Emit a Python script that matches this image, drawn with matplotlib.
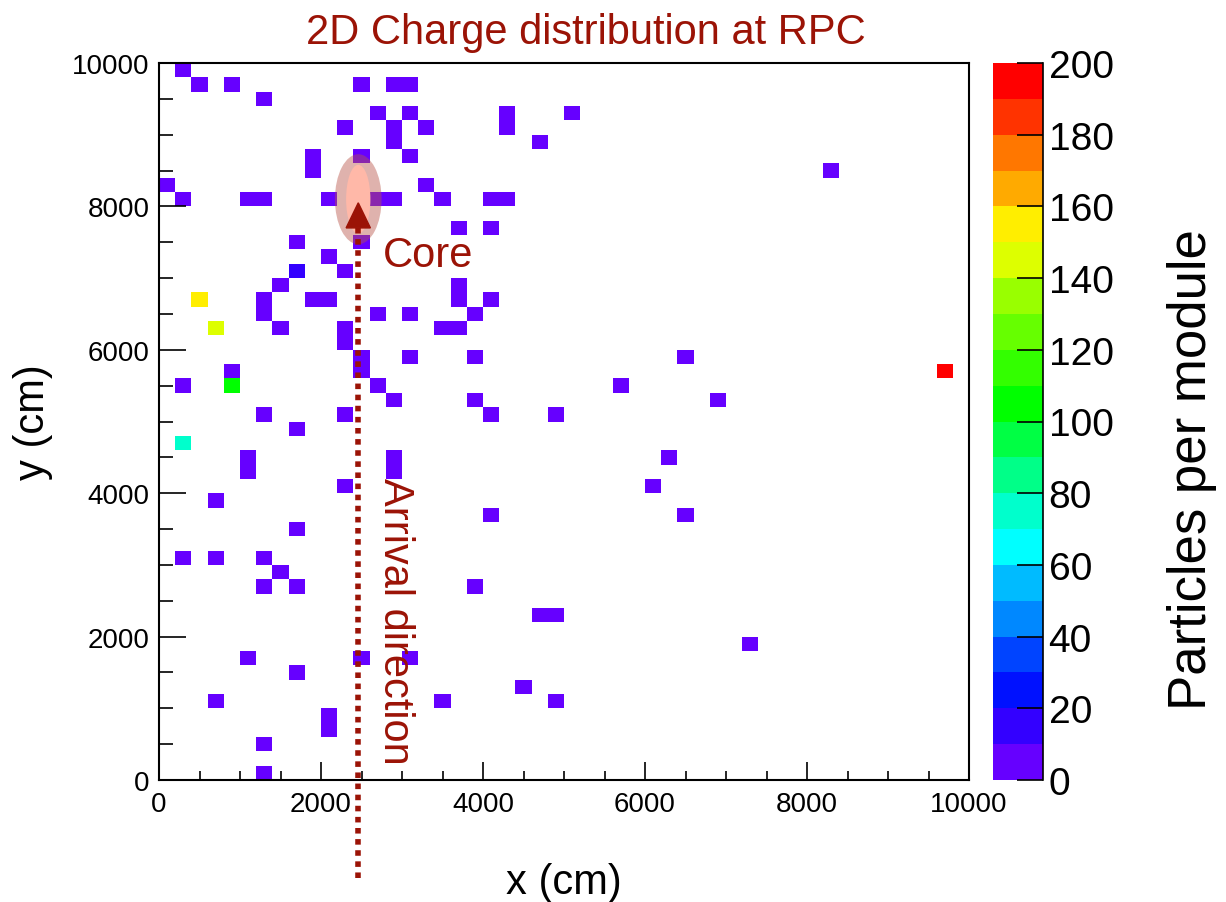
import numpy as np
import matplotlib.pyplot as plt
from matplotlib.colors import ListedColormap, BoundaryNorm
from matplotlib.patches import Ellipse

plt.rcParams['font.family'] = ['Liberation Sans', 'DejaVu Sans']

# module centres (cm) and particles per module, read row by row (top -> bottom)
x_cm = [300,
        500, 900, 2500, 2900, 3100,
        1300,
        2700, 3100, 4300, 5100,
        2300, 2900, 3300, 4300,
        2900, 4700,
        1900, 2500, 3100,
        1900, 8300,
        100, 3300,
        300, 1100, 1300, 2100, 2700, 2900, 3500, 4100, 4300,
        3700, 4100,
        1700, 2500,
        2100,
        1700, 2300,
        1500, 3700,
        500, 1300, 1900, 2100, 3700, 4100,
        1300, 2700, 3100, 3900,
        700, 1500, 2300, 3500, 3700,
        2300,
        2500, 3100, 3900, 6500,
        900, 2500, 9700,
        300, 900, 2700, 5700,
        2900, 3900, 6900,
        1300, 2300, 4100, 4900,
        1700,
        300,
        1100, 2900, 6300,
        1100, 2900,
        2300, 6100,
        700,
        4100, 6500,
        1700,
        300, 700, 1300,
        1500,
        1300, 1700, 3900,
        4700, 4900,
        7300,
        1100, 2500, 3100,
        1700,
        4500,
        700, 3500, 4900,
        2100,
        2100,
        1300,
        1300]
y_cm = [9900,
        9700, 9700, 9700, 9700, 9700,
        9500,
        9300, 9300, 9300, 9300,
        9100, 9100, 9100, 9100,
        8900, 8900,
        8700, 8700, 8700,
        8500, 8500,
        8300, 8300,
        8100, 8100, 8100, 8100, 8100, 8100, 8100, 8100, 8100,
        7700, 7700,
        7500, 7500,
        7300,
        7100, 7100,
        6900, 6900,
        6700, 6700, 6700, 6700, 6700, 6700,
        6500, 6500, 6500, 6500,
        6300, 6300, 6300, 6300, 6300,
        6100,
        5900, 5900, 5900, 5900,
        5700, 5700, 5700,
        5500, 5500, 5500, 5500,
        5300, 5300, 5300,
        5100, 5100, 5100, 5100,
        4900,
        4700,
        4500, 4500, 4500,
        4300, 4300,
        4100, 4100,
        3900,
        3700, 3700,
        3500,
        3100, 3100, 3100,
        2900,
        2700, 2700, 2700,
        2300, 2300,
        1900,
        1700, 1700, 1700,
        1500,
        1300,
        1100, 1100, 1100,
        900,
        700,
        500,
        100]
particles = [2,
             3, 2, 1, 2, 2,
             1,
             2, 3, 2, 1,
             2, 1, 2, 3,
             2, 1,
             3, 2, 1,
             2, 1,
             3, 2,
             2, 1, 3, 2, 2, 1, 2, 3, 2,
             1, 2,
             2, 3,
             1,
             15, 2,
             3, 1,
             155, 2, 3, 1, 2, 2,
             1, 2, 3, 2,
             145, 1, 2, 2, 3,
             2,
             1, 2, 2, 3,
             2, 1, 195,
             3, 105, 2, 1,
             2, 3, 1,
             2, 1, 2, 3,
             2,
             75,
             1, 3, 2,
             2, 1,
             3, 2,
             1,
             2, 3,
             2,
             1, 2, 3,
             2,
             3, 1, 2,
             2, 1,
             2,
             1, 3, 2,
             2,
             1,
             3, 2, 1,
             2,
             3,
             1,
             2]

x_edges = np.arange(0, 10001, 200)
y_edges = np.arange(0, 10001, 200)
z_levels = np.arange(0, 201, 10)

# ROOT-like rainbow, 20 contour levels, bottom to top
palette = ['#6600ff', '#3300ff', '#0011ff', '#0044ff', '#0088ff',
           '#00bbff', '#00ffff', '#00ffcc', '#00ff88', '#00ff44',
           '#00ff00', '#33ff00', '#66ff00', '#99ff00', '#ddff00',
           '#ffee00', '#ffaa00', '#ff7700', '#ff3300', '#ff0000']

DARK_RED = '#9b1306'

counts, _, _ = np.histogram2d(x_cm, y_cm, bins=[x_edges, y_edges], weights=particles)
counts = np.ma.masked_equal(counts.T, 0)

W, H = 1226, 903
fig = plt.figure(figsize=(W / 100, H / 100), dpi=100)
ax = fig.add_axes([159 / W, 1 - 781 / H, 810 / W, 717 / H])
cax = fig.add_axes([993 / W, 1 - 781 / H, 50 / W, 717 / H])

cmap = ListedColormap(palette)
norm = BoundaryNorm(z_levels, cmap.N)
mesh = ax.pcolormesh(x_edges, y_edges, counts, cmap=cmap, norm=norm)

# core marker + arrival direction
ax.add_patch(Ellipse((2460, 8100), 576, 1255, facecolor='#b8564a',
                     alpha=0.45, edgecolor='none', zorder=3))
ax.add_patch(Ellipse((2460, 8100), 300, 960, facecolor='#ffb8a8',
                     edgecolor='none', zorder=3))
ax.plot([2460, 2460], [7700, -1410], color=DARK_RED, lw=4,
        linestyle=(0, (1, 1)), dash_capstyle='butt', clip_on=False, zorder=4)
ax.fill([2310, 2610, 2460], [7700, 7700, 8050], color=DARK_RED, zorder=4)
ax.text(2765, 7169, 'Core', color=DARK_RED, fontsize=30,
        ha='left', va='baseline', zorder=5)
ax.text(2914, 4226, 'Arrival direction', rotation=-90, color=DARK_RED,
        fontsize=30, ha='center', va='top', zorder=5)

ax.set_xlim(0, 10000)
ax.set_ylim(0, 10000)
ax.set_xticks(np.arange(0, 10001, 2000))
ax.set_yticks(np.arange(0, 10001, 2000))
ax.set_xticks(np.arange(0, 10001, 500), minor=True)
ax.set_yticks(np.arange(0, 10001, 500), minor=True)
ax.tick_params(which='both', direction='in', top=False, right=False,
               width=1.2, labelsize=20)
ax.tick_params(axis='x', which='major', length=13, pad=8)
ax.tick_params(axis='x', which='minor', length=6.5)
ax.tick_params(axis='y', which='major', length=19.5, pad=7)
ax.tick_params(axis='y', which='minor', length=10)
for sp in ax.spines.values():
    sp.set_linewidth(1.5)

ax.set_xlabel('x (cm)', fontsize=30)
ax.xaxis.set_label_coords(0.5, -0.114)
ax.set_ylabel('y (cm)', fontsize=30)
ax.yaxis.set_label_coords(-0.131, 0.5)

cb = fig.colorbar(mesh, cax=cax, ticks=np.arange(0, 201, 20))
cb.outline.set_visible(False)
cax.minorticks_off()
cax.spines['right'].set_visible(True)
cax.spines['right'].set_linewidth(1.2)
cax.tick_params(direction='in', length=19, width=1.2, labelsize=28, pad=4)

fig.text(1192 / W, 1 - 470 / H, 'Particles per module', rotation=90,
         fontsize=38, ha='center', va='center')
fig.text(0.478, 1 - 44 / H, '2D Charge distribution at RPC', color=DARK_RED,
         fontsize=30, ha='center', va='baseline')

fig.savefig('out.png', dpi=100)
